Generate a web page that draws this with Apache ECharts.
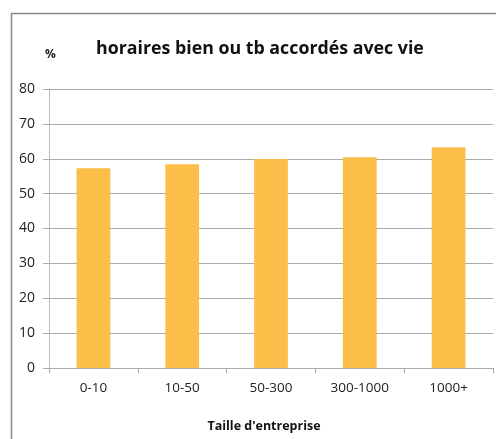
<!DOCTYPE html>
<html>
<head>
<meta charset="utf-8">
<script src="https://cdn.jsdelivr.net/npm/echarts@6/dist/echarts.min.js"></script>
<style>
  html, body { margin: 0; padding: 0; background: #fff; }
  #chart { width: 496px; height: 439px; }
</style>
</head>
<body>
<div id="chart"></div>
<script>
// values
const categories = ['0-10', '10-50', '50-300', '300-1000', '1000+']
const values = [57.3, 58.4, 59.9, 60.4, 63.3]

const fontFamily = '"Open Sans", sans-serif'

const chart = echarts.init(document.getElementById('chart'))
chart.setOption({
  animation: false,
  textStyle: { fontFamily: fontFamily },
  title: {
    text: 'horaires bien ou tb accordés avec vie',
    left: 96,
    top: 40,
    padding: 0,
    textStyle: { fontSize: 17.8, fontWeight: 'bold', color: '#111', fontFamily: fontFamily }
  },
  graphic: [
    {
      type: 'rect',
      shape: { x: 11.5, y: 13.5, width: 500, height: 440 },
      style: { fill: 'none', stroke: '#8a8a8a', lineWidth: 1.5 },
      silent: true
    },
    {
      type: 'text',
      left: 45,
      top: 49,
      style: { text: '%', fontSize: 12, fontWeight: 'bold', fill: '#222', fontFamily: fontFamily }
    }
  ],
  grid: {
    left: 49,
    right: 3,
    top: 89,
    bottom: 71
  },
  xAxis: {
    type: 'category',
    data: categories,
    name: "Taille d'entreprise",
    nameLocation: 'middle',
    nameGap: 52,
    nameTextStyle: { fontSize: 12.5, fontWeight: 'bold', color: '#111', padding: [0, 14, 0, 0], fontFamily: fontFamily },
    axisLine: { lineStyle: { color: '#aaa' } },
    axisTick: { show: true, length: 5, lineStyle: { color: '#aaa' } },
    axisLabel: { fontSize: 13.5, color: '#222', margin: 13, interval: 0, fontFamily: fontFamily }
  },
  yAxis: {
    type: 'value',
    min: 0,
    max: 80,
    interval: 10,
    axisLine: { show: true, lineStyle: { color: '#bbb' } },
    axisTick: { show: true, length: 6, lineStyle: { color: '#aaa' } },
    axisLabel: { fontSize: 14, color: '#222', margin: 14, fontFamily: fontFamily },
    splitLine: { lineStyle: { color: '#aaa' } }
  },
  series: [{
    type: 'bar',
    data: values,
    barWidth: '38%',
    itemStyle: { color: '#FBBE48' }
  }]
})
</script>
</body>
</html>
